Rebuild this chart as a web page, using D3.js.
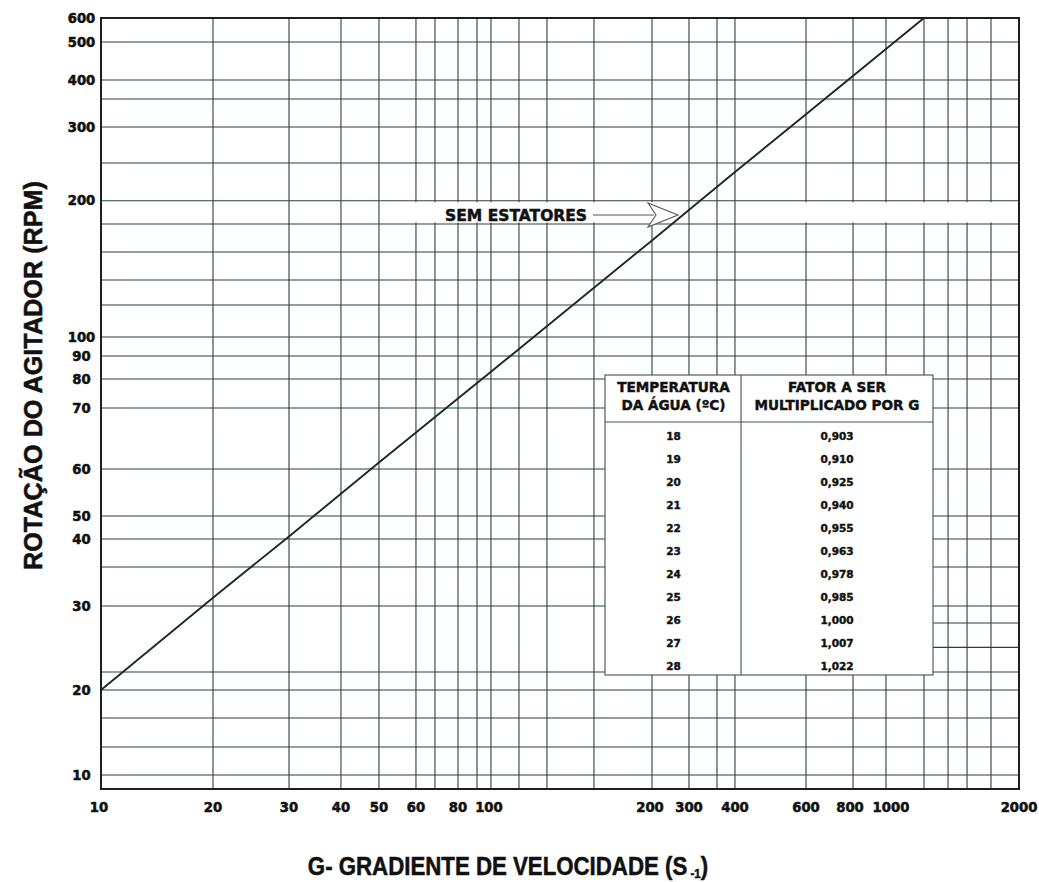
<!DOCTYPE html>
<html>
<head>
<meta charset="utf-8">
<script src="https://cdn.jsdelivr.net/npm/d3@7"></script>
<style>
  html, body { margin: 0; padding: 0; background: #fff; }
  svg { display: block; }
</style>
</head>
<body>
<svg id="chart" width="1039" height="882"></svg>
<script>
// ---- G scale (velocity gradient, s^-1): grid values, labelled ticks, printed graduation
const gGrid = [10, 20, 30, 40, 50, 60, 70, 80, 90, 100, 120, 140, 170, 200, 300, 350, 400, 600, 800, 1000, 1200, 1400, 1600, 1800, 2000];
const gTicks = [10, 20, 30, 40, 50, 60, 80, 100, 200, 300, 400, 600, 800, 1000, 2000];
const gGraduation = [0, .1220, .2048, .2614, .3028, .3431, .3638, .3889, .4096, .4248, .4553, .4858, .5370, .6002, .6405, .6710, .6906, .7680, .8192, .8551, .8965, .9227, .9434, .9695, 1];

// ---- rotation scale (RPM): grid values, labelled ticks, printed graduation (from the top)
const rpmGrid = [600, 500, 400, 350, 300, 250, 200, 180, 160, 140, 120, 100, 90, 80, 70, 60, 50, 40, 35, 30, 22, 20, 15, 12, 10];
const rpmTicks = [600, 500, 400, 300, 200, 100, 90, 80, 70, 60, 50, 40, 30, 20, 10];
const rpmGraduation = [0, .0311, .0804, .1051, .1414, .1881, .2370, .2672, .3035, .3398, .3722, .4137, .4384, .4682, .5058, .5850, .6459, .6757, .7121, .7626, .8482, .8716, .9079, .9455, .9818];
// short extra rules printed only to the right of the table
const rpmShortGrid = [27.7, 24.7];

// ---- agitator curve without stators: G (s^-1) vs rotation (RPM)
const curveG   = [10, 20, 30, 50, 100, 200, 400, 600, 1000, 1200];
const curveRPM = [20, 31, 41, 61, 83, 168, 237, 322, 480, 600];

// ---- temperature correction table
const tableTemps   = [18, 19, 20, 21, 22, 23, 24, 25, 26, 27, 28];
const tableFactors = [0.903, 0.910, 0.925, 0.940, 0.955, 0.963, 0.978, 0.985, 1.000, 1.007, 1.022];
const tableHeadTemp   = ["TEMPERATURA", "DA ÁGUA (ºC)"];
const tableHeadFactor = ["FATOR A SER", "MULTIPLICADO POR G"];

// ---- annotation
const noteText = "SEM ESTATORES";
const noteG = 266, noteRPM = 187.5;

// ---- layout
const frame = { left: 101, top: 18, right: 1019, bottom: 789 };
const fw = frame.right - frame.left, fh = frame.bottom - frame.top;
const tbl = { left: 605, right: 933, top: 375, bottom: 675, split: 741, head: 422 };
const gridColor = "#2b4040";
const inkColor = "#111";
const boldFont = "'DejaVu Sans', sans-serif";
const titleFont = "'Liberation Sans', Arial, sans-serif";
// small horizontal nudges of crowded G labels (px)
const gLabelNudge = { 10: -2, 100: -2, 200: -2, 800: -3, 1000: 5 };

const svg = d3.select("#chart");

// piecewise log scales following the printed graduation
const x = d3.scaleLog().domain(gGrid).range(gGraduation.map(f => frame.left + f * fw));
const y = d3.scaleLog().domain(rpmGrid).range(rpmGraduation.map(f => frame.top + f * fh));

// grid
const grid = svg.append("g").attr("stroke", gridColor).attr("stroke-width", 1.1);
grid.selectAll("line.v").data(gGrid).join("line")
  .attr("class", "v")
  .attr("x1", d => x(d)).attr("x2", d => x(d))
  .attr("y1", frame.top).attr("y2", frame.bottom);
grid.selectAll("line.h").data(rpmGrid.filter(d => y(d) < frame.bottom - 2)).join("line")
  .attr("class", "h")
  .attr("x1", frame.left).attr("x2", frame.right)
  .attr("y1", d => y(d)).attr("y2", d => y(d));
grid.selectAll("line.s").data(rpmShortGrid).join("line")
  .attr("class", "s")
  .attr("x1", tbl.right).attr("x2", frame.right)
  .attr("y1", d => y(d)).attr("y2", d => y(d));

// clear band behind the annotation (vertical rules interrupted)
const bandTop = y(200) + 1.5, bandBottom = y(180) - 1.5;
svg.append("rect")
  .attr("x", x(60) - 12).attr("y", bandTop)
  .attr("width", x(280) - (x(60) - 12)).attr("height", bandBottom - bandTop)
  .attr("fill", "#fff");
svg.append("rect")
  .attr("x", x(400) + 2).attr("y", bandTop)
  .attr("width", frame.right - 1 - (x(400) + 2)).attr("height", bandBottom - bandTop)
  .attr("fill", "#fff");

// curve
const line = d3.line().x((d, i) => x(curveG[i])).y((d, i) => y(curveRPM[i]));
svg.append("path")
  .datum(curveG)
  .attr("d", line)
  .attr("fill", "none")
  .attr("stroke", "#1a2828")
  .attr("stroke-width", 1.9);

// frame
svg.append("rect")
  .attr("x", frame.left).attr("y", frame.top)
  .attr("width", fw).attr("height", fh)
  .attr("fill", "none").attr("stroke", "#1e1e1e").attr("stroke-width", 2);

// tick labels
const tickStyle = sel => sel
  .attr("font-family", boldFont).attr("font-weight", "bold")
  .attr("font-size", 13.2).attr("fill", inkColor)
  .attr("stroke", inkColor).attr("stroke-width", 0.55)
  .attr("text-anchor", "middle");

svg.append("g").selectAll("text").data(gTicks).join("text")
  .call(tickStyle)
  .attr("x", d => x(d) + (gLabelNudge[d] || 0))
  .attr("y", frame.bottom + 23)
  .text(d => d);

svg.append("g").selectAll("text").data(rpmTicks).join("text")
  .call(tickStyle)
  .attr("x", frame.left - 19.5)
  .attr("y", d => y(d))
  .attr("dy", "0.36em")
  .text(d => d);

// axis titles
svg.append("text")
  .attr("transform", `translate(508,875) scale(0.89,1)`)
  .attr("text-anchor", "middle")
  .attr("font-family", titleFont).attr("font-weight", "bold").attr("font-size", 25)
  .attr("fill", inkColor).attr("stroke", inkColor).attr("stroke-width", 0.5)
  .call(t => {
    t.append("tspan").text("G- GRADIENTE DE VELOCIDADE (S");
    t.append("tspan").attr("font-size", 13).attr("dy", 3).text(" -1");
    t.append("tspan").attr("dy", -3).text(")");
  });

svg.append("text")
  .attr("transform", `translate(42,${(frame.top + frame.bottom) / 2 - 28}) rotate(-90) scale(0.97,1)`)
  .attr("text-anchor", "middle")
  .attr("font-family", titleFont).attr("font-weight", "bold").attr("font-size", 26)
  .attr("fill", inkColor).attr("stroke", inkColor).attr("stroke-width", 0.5)
  .text("ROTAÇÃO DO AGITADOR (RPM)");

// annotation with hollow arrow
const tipX = x(noteG), tipY = y(noteRPM);
const note = svg.append("g");
note.append("line")
  .attr("x1", tipX - 85).attr("x2", tipX - 24)
  .attr("y1", tipY).attr("y2", tipY)
  .attr("stroke", "#555").attr("stroke-width", 1.2);
note.append("path")
  .attr("d", `M${tipX - 30},${tipY - 12} L${tipX},${tipY} L${tipX - 30},${tipY + 12} L${tipX - 22},${tipY} Z`)
  .attr("fill", "#fff").attr("stroke", "#555").attr("stroke-width", 1.1);
note.append("text")
  .attr("x", tipX - 91).attr("y", tipY).attr("dy", "0.36em")
  .attr("text-anchor", "end")
  .attr("font-family", boldFont).attr("font-weight", "bold").attr("font-size", 15.5)
  .attr("fill", inkColor).attr("stroke", inkColor).attr("stroke-width", 0.5)
  .text(noteText);

// temperature correction table
const fmt = d3.formatLocale({ decimal: ",", thousands: ".", grouping: [3], currency: ["R$", ""] }).format(".3f");
const rowY = d3.scalePoint().domain(tableTemps).range([436.7, 666.7]);
const tg = svg.append("g");
tg.append("rect")
  .attr("x", tbl.left).attr("y", tbl.top)
  .attr("width", tbl.right - tbl.left).attr("height", tbl.bottom - tbl.top)
  .attr("fill", "#fff").attr("stroke", "#3e5252").attr("stroke-width", 1.1);
tg.append("line")
  .attr("x1", tbl.split).attr("x2", tbl.split).attr("y1", tbl.top).attr("y2", tbl.bottom)
  .attr("stroke", "#3e5252").attr("stroke-width", 1.1);
tg.append("line")
  .attr("x1", tbl.left).attr("x2", tbl.right).attr("y1", tbl.head).attr("y2", tbl.head)
  .attr("stroke", "#3e5252").attr("stroke-width", 1.1);

const headStyle = sel => sel
  .attr("font-family", boldFont).attr("font-weight", "bold").attr("font-size", 13.6)
  .attr("fill", inkColor).attr("stroke", inkColor).attr("stroke-width", 0.45)
  .attr("text-anchor", "middle");
const c1 = (tbl.left + tbl.split) / 2 + 0.5, c2 = (tbl.split + tbl.right) / 2;
tg.selectAll("text.h1").data(tableHeadTemp).join("text").attr("class", "h1")
  .call(headStyle).attr("x", c1).attr("y", (d, i) => 391.5 + i * 18.5).text(d => d);
tg.selectAll("text.h2").data(tableHeadFactor).join("text").attr("class", "h2")
  .call(headStyle).attr("x", c2).attr("y", (d, i) => 391.5 + i * 18.5).text(d => d);

const cellStyle = sel => sel
  .attr("font-family", boldFont).attr("font-weight", "bold").attr("font-size", 10.5)
  .attr("fill", inkColor).attr("stroke", inkColor).attr("stroke-width", 0.4)
  .attr("text-anchor", "middle").attr("dy", "0.36em");
tg.selectAll("text.t").data(tableTemps).join("text").attr("class", "t")
  .call(cellStyle).attr("x", c1).attr("y", d => rowY(d)).text(d => d);
tg.selectAll("text.f").data(tableFactors).join("text").attr("class", "f")
  .call(cellStyle).attr("x", c2).attr("y", (d, i) => rowY(tableTemps[i])).text(d => fmt(d));
</script>
</body>
</html>
